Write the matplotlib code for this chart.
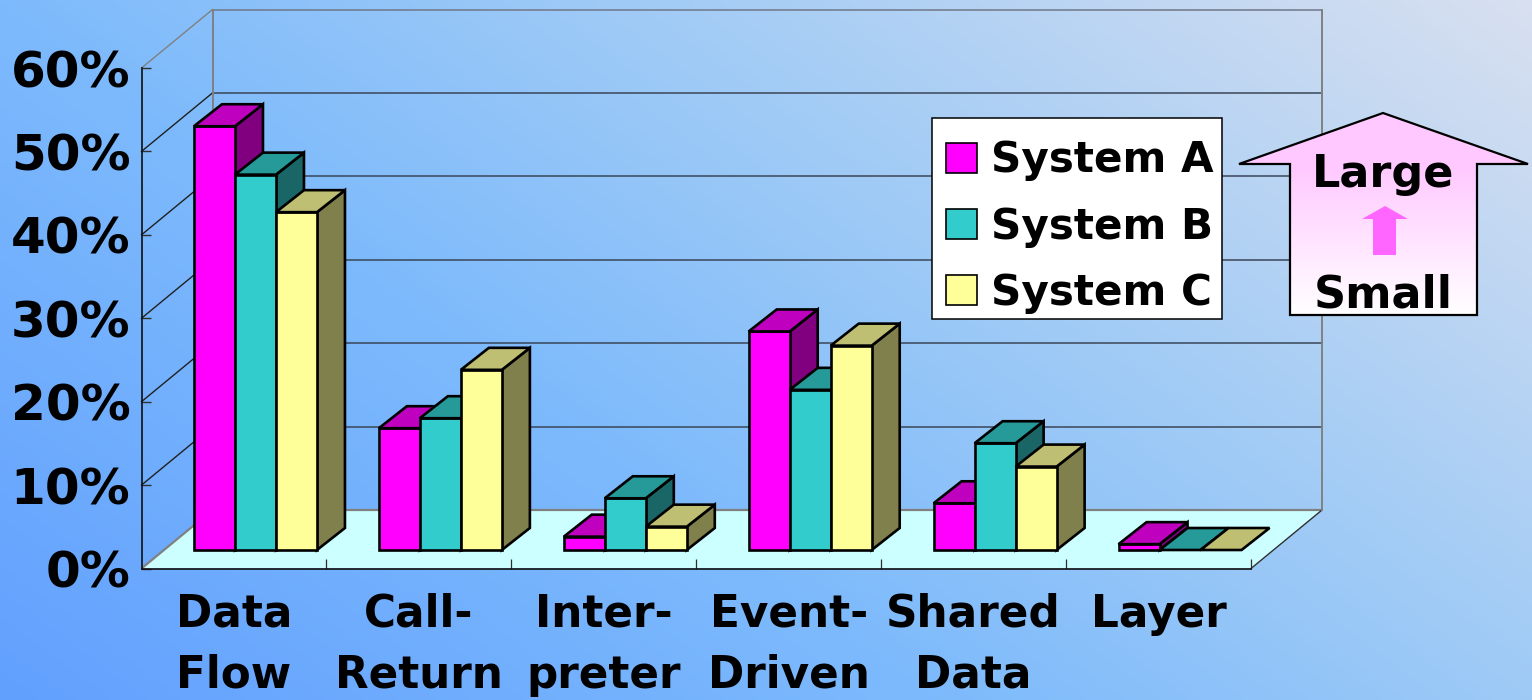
import numpy as np
import matplotlib
matplotlib.use("Agg")
import matplotlib.pyplot as plt
from matplotlib.patches import Patch, Polygon, Rectangle

# Share of each architectural style, percent
categories = ["Data\nFlow", "Call-\nReturn", "Inter-\npreter", "Event-\nDriven", "Shared\nData", "Layer"]
system_a = [50.8, 14.6, 1.6, 26.2, 5.6, 0.7]
system_b = [45.0, 15.8, 6.2, 19.2, 12.8, 0.0]
system_c = [40.5, 21.6, 2.8, 24.5, 10.0, 0.0]
series_names = ["System A", "System B", "System C"]
y_ticks = [0, 10, 20, 30, 40, 50, 60]

W, H = 1532, 700
plt.rcParams["font.family"] = "DejaVu Sans"
plt.rcParams["font.weight"] = "bold"
fig = plt.figure(figsize=(W / 100, H / 100), dpi=100)


def rect_from_px(left, top, right, bottom):
    return [left / W, 1 - bottom / H, (right - left) / W, (bottom - top) / H]


# Diagonal background wash
bg = fig.add_axes([0, 0, 1, 1], zorder=0)
bg.axis("off")
u, v = np.meshgrid(np.linspace(0, 1, 384), np.linspace(0, 1, 175))
t = 0.62 * u + 0.38 * (1 - v)
stops = [0, 0.38, 0.62, 1]
wash = np.dstack([
    np.interp(t, stops, [98, 125, 158, 216]),
    np.interp(t, stops, [160, 186, 202, 224]),
    np.interp(t, stops, [255, 252, 246, 240]),
]) / 255
bg.imshow(wash, aspect="auto", extent=(0, 1, 0, 1), interpolation="bilinear")

# Chart axes: the front plane of the box
X0, X1, Y60, Y0 = 141.5, 1251, 68, 568.5
ax = fig.add_axes(rect_from_px(X0, Y60, X1, Y0), zorder=1)
ax.patch.set_alpha(0)
ax.set_xlim(0, 6)
ax.set_ylim(0, 60)
sx = 6 / (X1 - X0)
sy = 60 / (Y0 - Y60)

depth_x, depth_y = 71 * sx, 58.5 * sy
bar_w = 41 * sx
bar_dx, bar_dy = 28 * sx, 22 * sy
base_x, base_y = 21.5 * sx, 18.5 * sy

# Floor
ax.add_patch(Polygon([(0, 0), (6, 0), (6 + depth_x, depth_y), (depth_x, depth_y)],
                     closed=True, fc="#CCFFFF", ec="none", clip_on=False, zorder=1))
ax.plot([0, depth_x, 6 + depth_x], [0, depth_y, depth_y], color="#808080", lw=1.6,
        clip_on=False, zorder=2, solid_capstyle="butt")
ax.plot([6, 6 + depth_x], [0, depth_y], color="#303030", lw=1.0, clip_on=False, zorder=2)

# Back and side wall gridlines
for tick in y_ticks[1:]:
    shade = "#707888" if tick == 60 else "#3A4658"
    ax.plot([depth_x, 6 + depth_x], [tick + depth_y] * 2, color=shade, lw=1.1,
            clip_on=False, zorder=2)
    side = "#808080" if tick == 60 else "#202020"
    ax.plot([0, depth_x], [tick, tick + depth_y], color=side, lw=1.0, clip_on=False, zorder=2)
for xv in (depth_x, 6 + depth_x):
    ax.plot([xv, xv], [depth_y, 60 + depth_y], color="#808080", lw=1.4,
            clip_on=False, zorder=2)

face_colors = ["#FF00FF", "#33CCCC", "#FFFF99"]
top_colors = ["#BF00BF", "#269999", "#BFBF73"]
side_colors = ["#800080", "#1A6666", "#80804D"]
all_series = [system_a, system_b, system_c]

# Boxes drawn left to right so nearer sides stay correctly hidden
z = 3
edge = dict(ec="black", lw=1.9, joinstyle="miter", clip_on=False)
for i in range(len(categories)):
    for j, vals in enumerate(all_series):
        val = vals[i]
        x = i + 0.5 - 1.5 * bar_w + j * bar_w + base_x
        y = base_y
        if val > 0:
            ax.add_patch(Polygon([(x + bar_w, y), (x + bar_w + bar_dx, y + bar_dy),
                                  (x + bar_w + bar_dx, y + bar_dy + val), (x + bar_w, y + val)],
                                 closed=True, fc=side_colors[j], zorder=z, **edge))
            ax.add_patch(Rectangle((x, y), bar_w, val, fc=face_colors[j], zorder=z + 0.1, **edge))
        ax.add_patch(Polygon([(x, y + val), (x + bar_w, y + val),
                              (x + bar_w + bar_dx, y + val + bar_dy), (x + bar_dx, y + val + bar_dy)],
                             closed=True, fc=top_colors[j], zorder=z + 0.2, **edge))
        z += 1

# Axes, ticks and labels
for s in ("top", "right"):
    ax.spines[s].set_visible(False)
for s in ("left", "bottom"):
    ax.spines[s].set_color("#101010")
    ax.spines[s].set_linewidth(1.2)
ax.set_yticks(y_ticks)
ax.set_yticklabels([f"{tick}%" for tick in y_ticks], fontsize=36, fontweight="bold")
ax.tick_params(axis="y", direction="in", length=6.5, width=1.0, color="#303030", pad=8)
ax.set_xticks(range(1, 7))
ax.set_xticklabels([])
ax.tick_params(axis="x", which="major", direction="in", length=7, width=0.9, color="#303030")
ax.set_xticks(np.arange(len(categories)) + 0.5, minor=True)
ax.set_xticklabels(categories, minor=True, fontsize=31.5, fontweight="bold", linespacing=1.53)
ax.tick_params(axis="x", which="minor", length=0, pad=17.5)

# Legend panel and entries
ax.add_patch(Rectangle((932 / W, 1 - 319 / H), 290 / W, 201 / H, transform=fig.transFigure,
                       fc="white", ec="black", lw=1.1, clip_on=False, zorder=499))
handles = [Patch(fc=c, ec="black", lw=1.2) for c in face_colors]
leg = ax.legend(handles, series_names, prop={"weight": "bold", "size": 30.3},
                loc="upper left", bbox_to_anchor=(932 / W, 1 - 125 / H),
                bbox_transform=fig.transFigure, borderaxespad=0, frameon=False,
                handlelength=0.72, handleheight=0.72, handletextpad=0.34,
                borderpad=0.34, labelspacing=0.58)
leg.set_zorder(500)

# Large/Small callout drawn in pixel coordinates
over = fig.add_axes([0, 0, 1, 1], zorder=2)
over.patch.set_alpha(0)
over.axis("off")
outline = [(1383, 113), (1528, 164), (1477, 164), (1477, 315), (1290, 315), (1290, 164), (1239, 164)]
fade = np.ones((256, 1, 3))
ramp = np.clip((np.linspace(113, 315, 256) - 164) / (315 - 164), 0, 1)[:, None]
fade[..., 1] = (200 + 55 * ramp) / 255
img = over.imshow(fade, extent=(1239, 1528, 315, 113), aspect="auto", zorder=2)
over.set_xlim(0, W)
over.set_ylim(H, 0)
img.set_clip_path(Polygon(outline, closed=True, transform=over.transData))
over.add_patch(Polygon(outline, closed=True, fc="none", ec="black", lw=1.6, joinstyle="miter", zorder=3))
over.add_patch(Polygon([(1385, 206), (1408, 219), (1396, 219), (1396, 255), (1373, 255), (1373, 219), (1362, 219)],
                       closed=True, fc="#FF66FF", ec="none", zorder=4))
over.text(1383.5, 187, "Large", ha="center", va="baseline", fontsize=32, fontweight="bold", zorder=5)
over.text(1383, 307, "Small", ha="center", va="baseline", fontsize=32, fontweight="bold", zorder=5)

fig.savefig("out.png", dpi=100)
